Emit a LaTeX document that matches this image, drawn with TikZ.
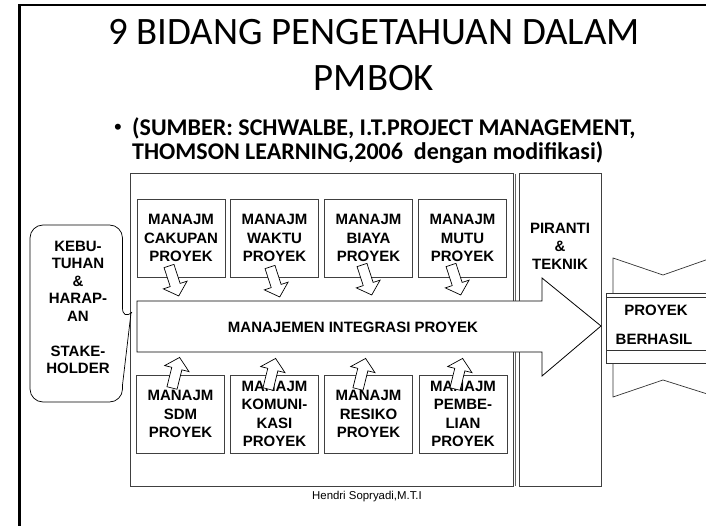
\documentclass[tikz,border=0pt]{standalone}
\usepackage{fontspec}
\setmainfont{Liberation Sans}
\newfontfamily\calfont{Carlito}
\tikzset{
  boxline/.style={draw=black!75, line width=0.8pt},
  mbox/.style={boxline, minimum width=88pt, minimum height=78pt, inner sep=0pt, align=center, font=\bfseries\fontsize{15}{18.5}\selectfont},
  lbl/.style={font=\bfseries\fontsize{15}{18}\selectfont, align=center, inner sep=0pt},
  blkstyle/.style={draw=black, fill=white, line width=0.7pt, line join=miter},
  blk/.pic={\draw[blkstyle] (0,-5.2) -- (20,-5.2) -- (20,-12.5) -- (31.5,0) -- (20,12.5) -- (20,5.2) -- (0,5.2) -- cycle;}
}
\begin{document}
\begin{tikzpicture}[x=1pt,y=1pt]
\clip (0,0) rectangle (706,-526);
\fill[white] (0,0) rectangle (706,-526);
% slide frame
\draw[line width=2.5pt] (19.5,-560) -- (19.5,-5) -- (740,-5);
% title
\node[font=\calfont\fontsize{38.8}{40}\selectfont, anchor=base, inner sep=0] (title1) at (374,-45) {9 BIDANG PENGETAHUAN DALAM};
\node[font=\calfont\fontsize{38.8}{40}\selectfont, anchor=base, inner sep=0] (title2) at (374,-91) {PMBOK};
\node[font=\fontsize{22}{24}\selectfont, anchor=base, inner sep=0] (bul) at (118,-135) {•};
\node[font=\calfont\bfseries\fontsize{24}{26}\selectfont, anchor=base west, inner sep=0] (src1) at (132,-136) {(SUMBER: SCHWALBE, I.T.PROJECT MANAGEMENT,};
\node[font=\calfont\bfseries\fontsize{24}{26}\selectfont, anchor=base west, inner sep=0] (src2) at (132,-160) {THOMSON LEARNING,2006\ \ dengan modifikasi)};
% main containers
\node[boxline, anchor=north west, minimum width=383pt, minimum height=313pt, inner sep=0pt] (mainbox) at (130,-173) {};
\draw[black!60, line width=0.6pt] (515,-174) -- (515,-486);
\node[boxline, anchor=north west, minimum width=82pt, minimum height=313pt, inner sep=0pt] (piranti) at (519,-173) {};
\node[lbl] (pirtext) at (560,-246) {PIRANTI\\\&\\TEKNIK};
% top boxes
\node[mbox] (cakupan) at (181,-238) {MANAJM\\CAKUPAN\\PROYEK};
\node[mbox] (waktu) at (274.5,-238) {MANAJM\\WAKTU\\PROYEK};
\node[mbox] (biaya) at (368.5,-238) {MANAJM\\BIAYA\\PROYEK};
\node[mbox] (mutu) at (462.5,-238) {MANAJM\\MUTU\\PROYEK};
% bottom boxes
\node[mbox] (sdm) at (180.5,-414) {MANAJM\\SDM\\PROYEK};
\node[mbox] (komunikasi) at (274.5,-414) {MANAJM\\KOMUNI-\\KASI\\PROYEK};
\node[mbox] (resiko) at (368.5,-414) {MANAJM\\RESIKO\\PROYEK};
\node[mbox] (pembelian) at (463,-414) {MANAJM\\PEMBE-\\LIAN\\PROYEK};
% integration arrow
\draw[blkstyle, line width=0.8pt] (137,-301) -- (542,-301) -- (542,-278) -- (601,-326) -- (542,-376) -- (542,-352) -- (137,-352) -- cycle;
\node[lbl] (integrasi) at (353,-327) {MANAJEMEN INTEGRASI PROYEK};
% small block arrows
\pic[rotate=-72] at (169,-266) {blk};
\pic[rotate=-72] at (270,-267) {blk};
\pic[rotate=-72] at (362,-265) {blk};
\pic[rotate=-72] at (451,-265) {blk};
\pic[rotate=76] at (172,-388) {blk};
\pic[rotate=76] at (268,-389) {blk};
\pic[rotate=76] at (358,-389) {blk};
\pic[rotate=76] at (455,-389) {blk};
% callout
\draw[black, line width=0.7pt] (131,-313) -- (122.5,-385) [rounded corners=13pt] -- (122.5,-402) -- (30,-402) -- (30,-225) -- (122.5,-225) -- (122.5,-321) [sharp corners] -- cycle;
\node[lbl, font=\bfseries\fontsize{15}{17.5}\selectfont] (kebutuhan) at (78,-307.5) {KEBU-\\TUHAN\\\&\\HARAP-\\AN\\[17.5pt]STAKE-\\HOLDER};
% result shape
\draw[black!80, line width=0.7pt, fill=white] (613,-293) -- (613,-258) -- (663,-275) -- (720,-255) -- (720,-293);
\draw[black!80, line width=0.7pt, fill=white] (613,-363) -- (613,-397) -- (663,-380) -- (720,-398) -- (720,-363);
\draw[black!80, line width=0.7pt, fill=white] (720,-293) -- (606,-293) -- (606,-363) -- (720,-363);
\draw[black!80, line width=0.6pt] (606,-297.5) -- (720,-297.5);
\draw[black!80, line width=0.6pt] (606,-350) -- (720,-350);
\node[lbl] (proyek) at (656,-310) {PROYEK};
\node[lbl] (berhasil) at (654,-339) {BERHASIL};
% footer
\node[font=\fontsize{11.4}{13}\selectfont, inner sep=0] (footer) at (367,-497) {Hendri Sopryadi,M.T.I};
\end{tikzpicture}
\end{document}
